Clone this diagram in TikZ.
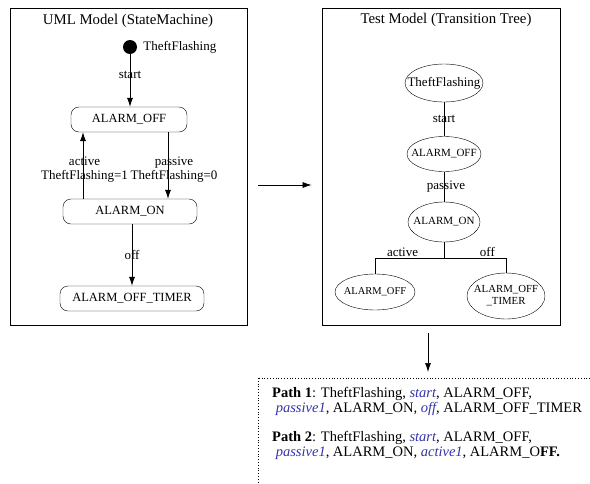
\documentclass[tikz,border=0pt]{standalone}
\usepackage{fontspec}
\setmainfont{Liberation Serif}
\usepackage{xcolor}
\usetikzlibrary{arrows.meta,calc,positioning,shapes.geometric}
\definecolor{pathblue}{RGB}{51,51,170}
\newcommand{\evt}[1]{\textit{\color{pathblue}#1}}

\begin{document}
\begin{tikzpicture}[x=1pt,y=-1pt,>={Latex[length=9pt,width=6pt]},
frm/.style={draw,line width=0.8pt,minimum width=237pt,minimum height=317pt,inner sep=0pt},
ttl/.style={font=\fontsize{14.8}{16}\selectfont},
st/.style={draw,rounded corners=8pt,minimum height=25pt,inner sep=2pt,font=\fontsize{12.5}{14}\selectfont},
tn/.style={draw,ellipse,inner sep=0pt,align=center,font=\fontsize{11}{12.5}\selectfont},
lab/.style={font=\fontsize{13}{14}\selectfont,align=center,inner sep=0pt},
flow/.style={->,line width=0.7pt},
edge/.style={line width=0.6pt}]
\useasboundingbox (0,0) rectangle (590,483);
% frames
\node[frm] (uml) at (128.5,166.5) {};
\node[frm,minimum width=238pt] (tt) at (441,166.5) {};
\node[ttl] (umlt) at (128,21) {UML Model (StateMachine)};
\node[ttl] (ttt) at (446,20) {Test Model (Transition Tree)};
% state machine
\node[circle,fill,inner sep=0pt,minimum size=14pt] (init) at (130,47) {};
\node[lab,right=6pt of init] (initl) {TheftFlashing};
\node[st,minimum width=116pt] (off) at (129,119.5) {ALARM\_OFF};
\node[st,minimum width=134pt] (on) at (130,211.5) {ALARM\_ON};
\node[st,minimum width=144pt] (tmr) at (132,298.5) {ALARM\_OFF\_TIMER};
\draw[flow] (init) -- (init |- off.north) node[lab,pos=0.4] {start};
\draw[flow] ([xshift=-47pt]on.north) -- ([xshift=-46pt]off.south)
  node[lab,midway,xshift=1.5pt,yshift=-4pt] {active\\TheftFlashing=1};
\draw[flow] ([xshift=39pt]off.south) -- ([xshift=38pt]on.north)
  node[lab,midway,xshift=6pt,yshift=-4pt] {passive\\TheftFlashing=0};
\draw[flow] (on.south -| tmr.north) -- (tmr.north) node[lab,midway] {off};
% transition tree
\node[tn,minimum width=78pt,minimum height=38pt,font=\fontsize{13}{14}\selectfont] (t0) at (444,83) {\makebox[0pt]{TheftFlashing}};
\node[tn,minimum width=74pt,minimum height=35pt] (t1) at (444,154) {\makebox[0pt]{ALARM\_OFF}};
\node[tn,minimum width=72pt,minimum height=40pt] (t2) at (444,222) {\makebox[0pt]{ALARM\_ON}};
\node[tn,minimum width=80pt,minimum height=36pt,font=\fontsize{10.5}{12}\selectfont] (t3) at (375,292) {\makebox[0pt]{ALARM\_OFF}};
\node[tn,minimum width=78pt,minimum height=46pt,font=\fontsize{10.8}{12}\selectfont] (t4) at (506,296) {\makebox[0pt]{ALARM\_OFF}\\\makebox[0pt]{\_TIMER}};
\draw[edge] (t0) -- (t1) node[lab,midway] {start};
\draw[edge] (t1) -- (t2) node[lab,midway,xshift=2pt] {passive};
\draw[edge] (t2.south) -- ++(0,16) coordinate (br);
\draw[edge] (br) -| (t3.north) node[lab,pos=0.3,above=1.5pt] {active};
\draw[edge] (br) -| (t4.north) node[lab,pos=0.35,above=1.5pt] {off};
% result paths
\draw[flow] ([shift={(11,18.5)}]uml.east) -- ([shift={(-10,18.5)}]tt.west);
\coordinate (pb) at (258,378);
\begin{scope}
\clip (0,0) rectangle (590,483);
\draw[dotted,line width=0.8pt] (pb) rectangle ++(340,120);
\end{scope}
\draw[flow] ([shift={(-13,8)}]tt.south) -- ([shift={(170,-6)}]pb);
\node[anchor=base west,align=left,inner sep=0pt,font=\fontsize{14.5}{15}\selectfont] (paths) at (272,456.5)
  {\textbf{Path 1}: TheftFlashing, \evt{start}, ALARM\_OFF,\\
   \ \evt{passive1}, ALARM\_ON, \evt{off}, ALARM\_OFF\_TIMER\\[14pt]
   \textbf{Path 2}: TheftFlashing, \evt{start}, ALARM\_OFF,\\
   \ \evt{passive1}, ALARM\_ON, \evt{active1}, ALARM\_O\textbf{FF.}};
\end{tikzpicture}
\end{document}
